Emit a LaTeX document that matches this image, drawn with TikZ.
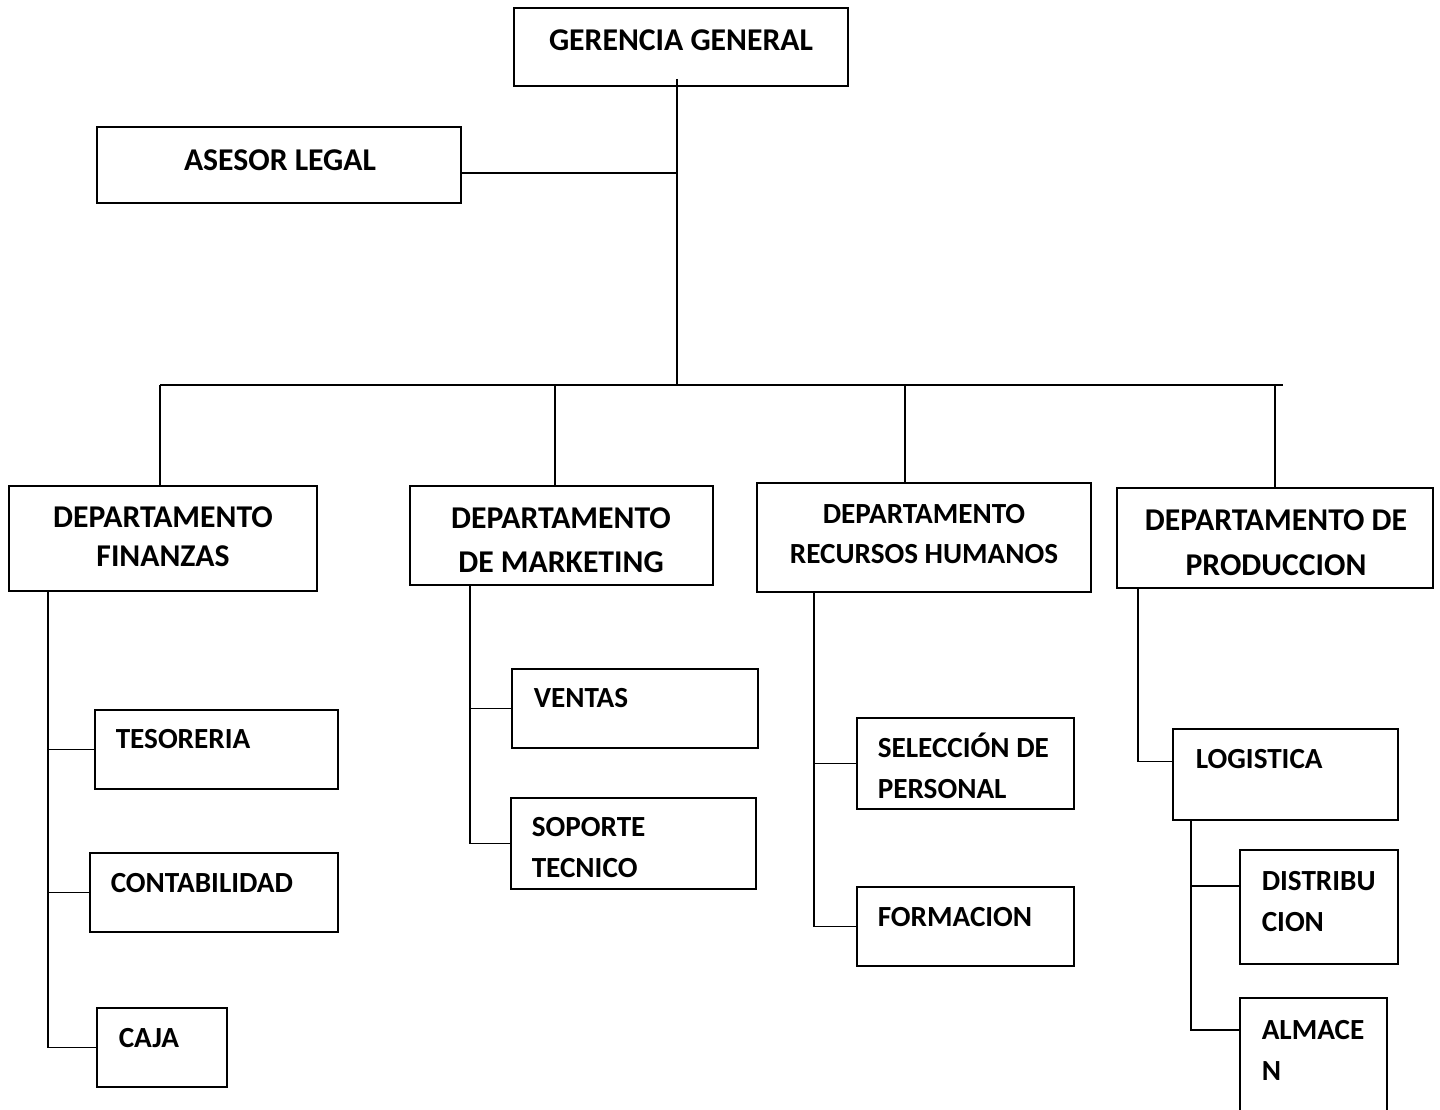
\documentclass[tikz,border=0pt]{standalone}
\usepackage{fontspec}
\setmainfont{Carlito}
\usetikzlibrary{fit}

\tikzset{
  box/.style={draw, inner sep=0pt},
  big/.style={font=\fontsize{15.85}{21}\selectfont\bfseries, align=center, inner sep=0pt, anchor=base},
  small/.style={font=\fontsize{14.6}{20.25}\selectfont\bfseries, align=left, inner sep=0pt, anchor=base west}
}

\begin{document}
\begin{tikzpicture}[x=0.5pt, y=-0.5pt, line width=0.75pt]
  \useasboundingbox (0,0) rectangle (1440,1109);
  \fill[white] (0,0) rectangle (1440,1109);

  % Top level boxes
  \node[box, fit={(514,8) (848,86)}] (gerencia) {};
  \node[box, fit={(97,127) (461,203)}] (asesor) {};
  \node[big] (gerencia-t) at (681,50) {GERENCIA GENERAL};
  \node[big] (asesor-t) at (280,170) {ASESOR LEGAL};

  % Departments (base = last line)
  \node[box, fit={(9,486) (317,591)}] (finanzas) {};
  \node[box, fit={(410,486) (713,585)}] (marketing) {};
  \node[box, fit={(757,483) (1091,592)}] (rrhh) {};
  \node[box, fit={(1117,488) (1433,588)}] (produccion) {};
  \node[big] (finanzas-t) at (163,566) {DEPARTAMENTO\\[-1.5pt]FINANZAS};
  \node[big] (marketing-t) at (561,572) {DEPARTAMENTO\\[1pt]DE MARKETING};
  \node[big, font=\fontsize{14.6}{20}\selectfont\bfseries] (rrhh-t) at (924,563) {DEPARTAMENTO\\RECURSOS HUMANOS};
  \node[big] (produccion-t) at (1276,575) {DEPARTAMENTO DE\\[1.5pt]PRODUCCION};

  % Sub units
  \node[box, fit={(95,710) (338,789)}] (tesoreria) {};
  \node[box, fit={(90,853) (338,932)}] (contabilidad) {};
  \node[box, fit={(97,1008) (227,1087)}] (caja) {};
  \node[box, fit={(512,669) (758,748)}] (ventas) {};
  \node[box, fit={(511,798) (756,889)}] (soporte) {};
  \node[box, fit={(857,718) (1074,809)}] (seleccion) {};
  \node[box, fit={(857,887) (1074,966)}] (formacion) {};
  \node[box, fit={(1173,729) (1398,820)}] (logistica) {};
  \node[box, fit={(1240,850) (1398,964)}] (distribucion) {};
  \node[box, fit={(1240,998) (1387,1120)}] (almacen) {};

  \node[small] (tesoreria-t) at (115,748) {TESORERIA};
  \node[small] (contabilidad-t) at (110,892) {CONTABILIDAD};
  \node[small] (caja-t) at (118,1047) {CAJA};
  \node[small] (ventas-t) at (533,707) {VENTAS};
  \node[small] (soporte-t) at (531,877) {SOPORTE\\TECNICO};
  \node[small] (seleccion-t) at (877,798) {SELECCIÓN DE\\PERSONAL};
  \node[small] (formacion-t) at (877,926) {FORMACION};
  \node[small] (logistica-t) at (1195,768) {LOGISTICA};
  \node[small] (distribucion-t) at (1261,931) {DISTRIBU\\CION};
  \node[small] (almacen-t) at (1261,1080) {ALMACE\\N};

  % Bus and trunks
  \coordinate (bus) at (677,385);
  \coordinate (busL) at (160,385);
  \coordinate (busR) at (1283,385);
  \coordinate (b2) at (555,385);
  \coordinate (b3) at (905,385);
  \coordinate (b4) at (1275,385);
  \coordinate (finx) at (48,0);
  \coordinate (mktx) at (470,0);
  \coordinate (rhx) at (814,0);
  \coordinate (prodx) at (1138,0);
  \coordinate (logx) at (1191,0);

  \coordinate (ase-out) at ([yshift=-4pt]asesor.east);
  \draw ([yshift=4pt]bus |- gerencia.south) -- (bus);
  \draw (ase-out) -- (ase-out -| bus);
  \draw (busL) -- (busR);
  \draw (busL) -- (busL |- finanzas.north);
  \draw (b2) -- (b2 |- marketing.north);
  \draw (b3) -- (b3 |- rrhh.north);
  \draw (b4) -- (b4 |- produccion.north);

  % Finanzas
  \draw (finx |- finanzas.south) -- (finx |- caja.west) -- (caja.west);
  \draw (finx |- tesoreria.west) -- (tesoreria.west);
  \draw (finx |- contabilidad.west) -- (contabilidad.west);

  % Marketing
  \draw (mktx |- marketing.south) -- (mktx |- soporte.west) -- (soporte.west);
  \draw (mktx |- ventas.west) -- (ventas.west);

  % Recursos humanos
  \draw (rhx |- rrhh.south) -- (rhx |- formacion.west) -- (formacion.west);
  \draw (rhx |- seleccion.west) -- (seleccion.west);

  % Produccion
  \coordinate (log-in) at ([yshift=6.5pt]logistica.west);
  \coordinate (dis-in) at ([yshift=10.5pt]distribucion.west);
  \coordinate (alm-in) at ([yshift=14.5pt]almacen.west);
  \draw (prodx |- produccion.south) -- (prodx |- log-in) -- (log-in);
  \draw (logx |- logistica.south) -- (logx |- alm-in) -- (alm-in);
  \draw (logx |- dis-in) -- (dis-in);
\end{tikzpicture}
\end{document}
